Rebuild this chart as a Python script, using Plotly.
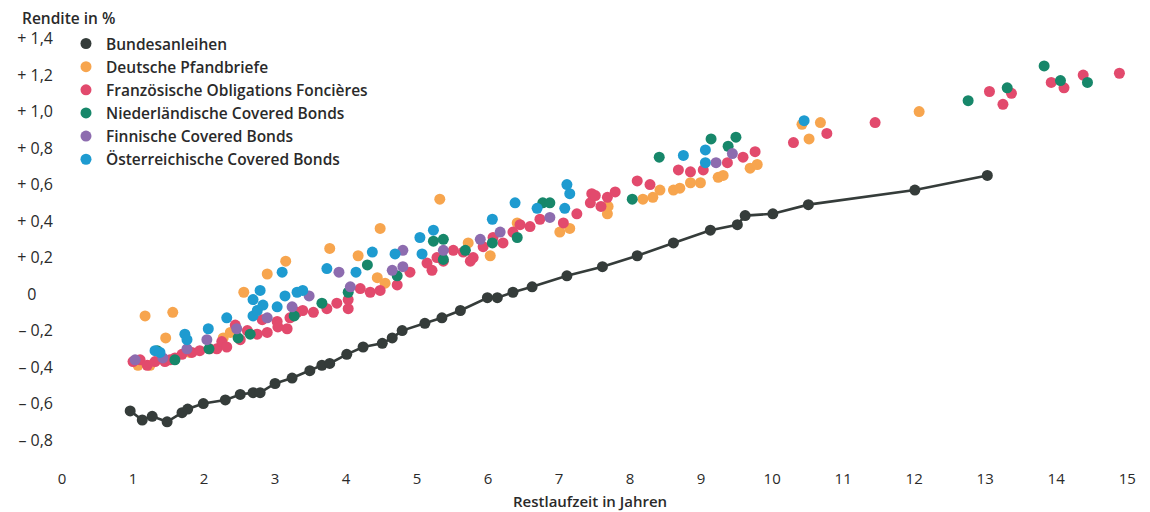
import plotly.graph_objects as go

# ---------------- data (Restlaufzeit in Jahren, Rendite in %) ----------------
bund_x = [0.96, 1.13, 1.27, 1.48, 1.69, 1.77, 1.99, 2.30, 2.51, 2.69, 2.79, 3.00, 3.24, 3.49,
          3.66, 3.77, 4.01, 4.24, 4.51, 4.65, 4.79, 5.11, 5.35, 5.61, 5.99, 6.13, 6.35, 6.62,
          7.11, 7.61, 8.10, 8.61, 9.13, 9.51, 9.62, 10.01, 10.51, 12.01, 13.03]
bund_y = [-0.64, -0.69, -0.67, -0.70, -0.65, -0.63, -0.60, -0.58, -0.55, -0.54, -0.54, -0.49,
          -0.46, -0.42, -0.39, -0.38, -0.33, -0.29, -0.27, -0.24, -0.20, -0.16, -0.13, -0.09,
          -0.02, -0.02, 0.01, 0.04, 0.10, 0.15, 0.21, 0.28, 0.35, 0.38, 0.43, 0.44, 0.49, 0.57, 0.65]

pfand_x = [1.07, 1.24, 1.17, 1.56, 1.46, 1.80, 2.27, 2.37, 2.56, 2.89, 3.15, 3.77, 4.17, 4.48,
           4.44, 4.55, 5.32, 5.72, 6.03, 6.41, 7.01, 7.15, 7.68, 7.69, 8.18, 8.32, 8.42, 8.61,
           8.70, 8.85, 8.99, 9.24, 9.31, 9.69, 9.79, 10.42, 10.52, 10.68, 12.07]
pfand_y = [-0.39, -0.39, -0.12, -0.10, -0.24, -0.32, -0.24, -0.21, 0.01, 0.11, 0.18, 0.25, 0.21,
           0.36, 0.09, 0.06, 0.52, 0.28, 0.21, 0.39, 0.34, 0.36, 0.44, 0.48, 0.52, 0.53, 0.57,
           0.57, 0.58, 0.61, 0.61, 0.64, 0.65, 0.69, 0.71, 0.93, 0.85, 0.94, 1.00]

franz_x = [1.00, 1.10, 1.20, 1.31, 1.45, 1.52, 1.59, 1.69, 1.83, 1.94, 2.08, 2.18, 2.25, 2.32,
           2.44, 2.51, 2.61, 2.75, 2.82, 2.89, 3.04, 3.17, 3.03, 3.21, 3.31, 3.39, 3.54, 3.73,
           3.87, 4.03, 4.03, 4.20, 4.34, 4.48, 4.72, 4.90, 5.14, 5.28, 5.21, 5.37, 5.51, 5.65,
           5.75, 5.79, 5.93, 6.07, 6.21, 6.35, 6.45, 6.59, 6.73, 7.06, 7.25, 7.44, 7.46, 7.51,
           7.59, 7.68, 7.79, 8.10, 8.28, 8.68, 8.85, 9.03, 9.37, 9.59, 9.76, 10.30, 10.77, 11.45,
           13.06, 13.25, 13.37, 13.93, 14.11, 14.38, 14.89]
franz_y = [-0.37, -0.36, -0.39, -0.37, -0.37, -0.36, -0.35, -0.33, -0.32, -0.31, -0.30, -0.30,
           -0.26, -0.29, -0.17, -0.25, -0.20, -0.22, -0.14, -0.21, -0.18, -0.19, -0.15, -0.13,
           -0.10, -0.09, -0.10, -0.08, -0.05, -0.08, -0.03, 0.03, 0.01, 0.02, 0.05, 0.12, 0.17,
           0.20, 0.13, 0.18, 0.24, 0.23, 0.18, 0.20, 0.26, 0.31, 0.28, 0.34, 0.38, 0.37, 0.41,
           0.39, 0.44, 0.50, 0.55, 0.54, 0.48, 0.53, 0.56, 0.62, 0.60, 0.68, 0.67, 0.68, 0.72,
           0.75, 0.78, 0.83, 0.88, 0.94, 1.11, 1.04, 1.10, 1.16, 1.13, 1.20, 1.21]

nl_x = [1.34, 1.59, 2.07, 2.48, 2.65, 3.27, 3.66, 4.03, 4.30, 4.72, 5.23, 5.37, 5.37, 5.68,
        6.06, 6.41, 6.77, 6.87, 8.03, 8.41, 9.14, 9.38, 9.49, 12.76, 13.31, 13.83, 14.06, 14.44]
nl_y = [-0.31, -0.36, -0.30, -0.24, -0.22, -0.12, -0.05, 0.01, 0.16, 0.10, 0.29, 0.30, 0.19,
        0.24, 0.28, 0.31, 0.50, 0.50, 0.52, 0.75, 0.85, 0.81, 0.86, 1.06, 1.13, 1.25, 1.17, 1.16]

fin_x = [1.03, 1.42, 1.76, 2.04, 2.46, 2.89, 3.24, 3.48, 3.90, 4.06, 4.65, 4.80, 4.80, 5.37,
         5.89, 6.17, 6.87, 9.21, 9.44]
fin_y = [-0.36, -0.35, -0.30, -0.25, -0.19, -0.13, -0.07, -0.01, 0.12, 0.04, 0.13, 0.24, 0.15,
         0.24, 0.30, 0.34, 0.42, 0.72, 0.77]

at_x = [1.31, 1.38, 1.73, 1.76, 2.06, 2.32, 2.69, 2.69, 2.75, 2.79, 2.83, 3.03, 3.10, 3.14,
        3.31, 3.39, 3.73, 4.14, 4.37, 4.69, 5.04, 5.07, 5.23, 6.06, 6.38, 6.69, 7.08, 7.11,
        7.15, 8.75, 9.06, 9.06, 10.45]
at_y = [-0.31, -0.32, -0.22, -0.25, -0.19, -0.13, -0.12, -0.03, -0.09, 0.02, -0.06, -0.07, 0.12,
        -0.01, 0.01, 0.02, 0.14, 0.12, 0.23, 0.22, 0.31, 0.22, 0.35, 0.41, 0.50, 0.47, 0.47,
        0.60, 0.55, 0.76, 0.79, 0.72, 0.95]

x_ticks = list(range(0, 16))
x_labels = [str(v) for v in x_ticks]
y_ticks = [1.4, 1.2, 1.0, 0.8, 0.6, 0.4, 0.2, 0.0, -0.2, -0.4, -0.6, -0.8]
y_labels = ["+ 1,4", "+ 1,2", "+ 1,0", "+ 0,8", "+ 0,6", "+ 0,4", "+ 0,2", "0\u00a0\u00a0\u00a0\u00a0",
            "\u2013 0,2", "\u2013 0,4", "\u2013 0,6", "\u2013 0,8"]

# ---------------- figure ----------------
FONT = "Open Sans"
TXT = "#2a2a2a"
MS = 11
BUND_COL = "#353c3a"
fig = go.Figure()

# Bundesanleihen: connecting line (no legend) + dots (legend shows a dot only)
fig.add_trace(go.Scatter(x=bund_x, y=bund_y, mode="lines", showlegend=False,
                         line=dict(color=BUND_COL, width=2.6), hoverinfo="skip"))
fig.add_trace(go.Scatter(x=bund_x, y=bund_y, mode="markers", name="Bundesanleihen",
                         marker=dict(color=BUND_COL, size=MS)))
series = [
    ("Deutsche Pfandbriefe", pfand_x, pfand_y, "#f7a54e"),
    ("Französische Obligations Foncières", franz_x, franz_y, "#e24a6d"),
    ("Niederländische Covered Bonds", nl_x, nl_y, "#17876a"),
    ("Finnische Covered Bonds", fin_x, fin_y, "#8d6caf"),
    ("Österreichische Covered Bonds", at_x, at_y, "#1e9bd0"),
]
for name, xs, ys, col in series:
    fig.add_trace(go.Scatter(x=xs, y=ys, mode="markers", name=name,
                             marker=dict(color=col, size=MS, line=dict(width=0))))

# page body has an 8px default margin, so the figure is 8px smaller than the window
fig.update_layout(
    width=1142, height=504,
    margin=dict(l=54, r=10, t=22, b=44, autoexpand=False),
    paper_bgcolor="white", plot_bgcolor="white",
    font=dict(family=FONT, size=16, color=TXT),
    showlegend=True,
    legend=dict(x=0.0037, y=1.007, xanchor="left", yanchor="top",
                bgcolor="rgba(0,0,0,0)", tracegroupgap=0,
                font=dict(family=FONT, size=15.5, color=TXT, weight=600)),
    xaxis=dict(range=[0, 15.18], tickmode="array", tickvals=x_ticks, ticktext=x_labels,
               showgrid=False, zeroline=False, showline=False, ticks="", automargin=False,
               ticklabelstandoff=0, tickfont=dict(size=15, color=TXT)),
    yaxis=dict(range=[-0.953, 1.447], tickmode="array", tickvals=y_ticks, ticktext=y_labels,
               showgrid=False, zeroline=False, showline=False, ticks="", automargin=False,
               ticklabelstandoff=8, tickfont=dict(size=16, color=TXT)),
    annotations=[
        dict(text="Rendite in %", xref="paper", yref="paper", x=-0.0394, y=1.0274,
             xanchor="left", yanchor="middle", showarrow=False,
             font=dict(family=FONT, size=15.5, color=TXT, weight=600)),
        dict(text="Restlaufzeit in Jahren", xref="x", yref="paper", x=7.44, y=-0.0755,
             xanchor="center", yanchor="middle", showarrow=False,
             font=dict(family=FONT, size=15, color=TXT, weight=600)),
    ],
)

fig.write_html("out.html")
